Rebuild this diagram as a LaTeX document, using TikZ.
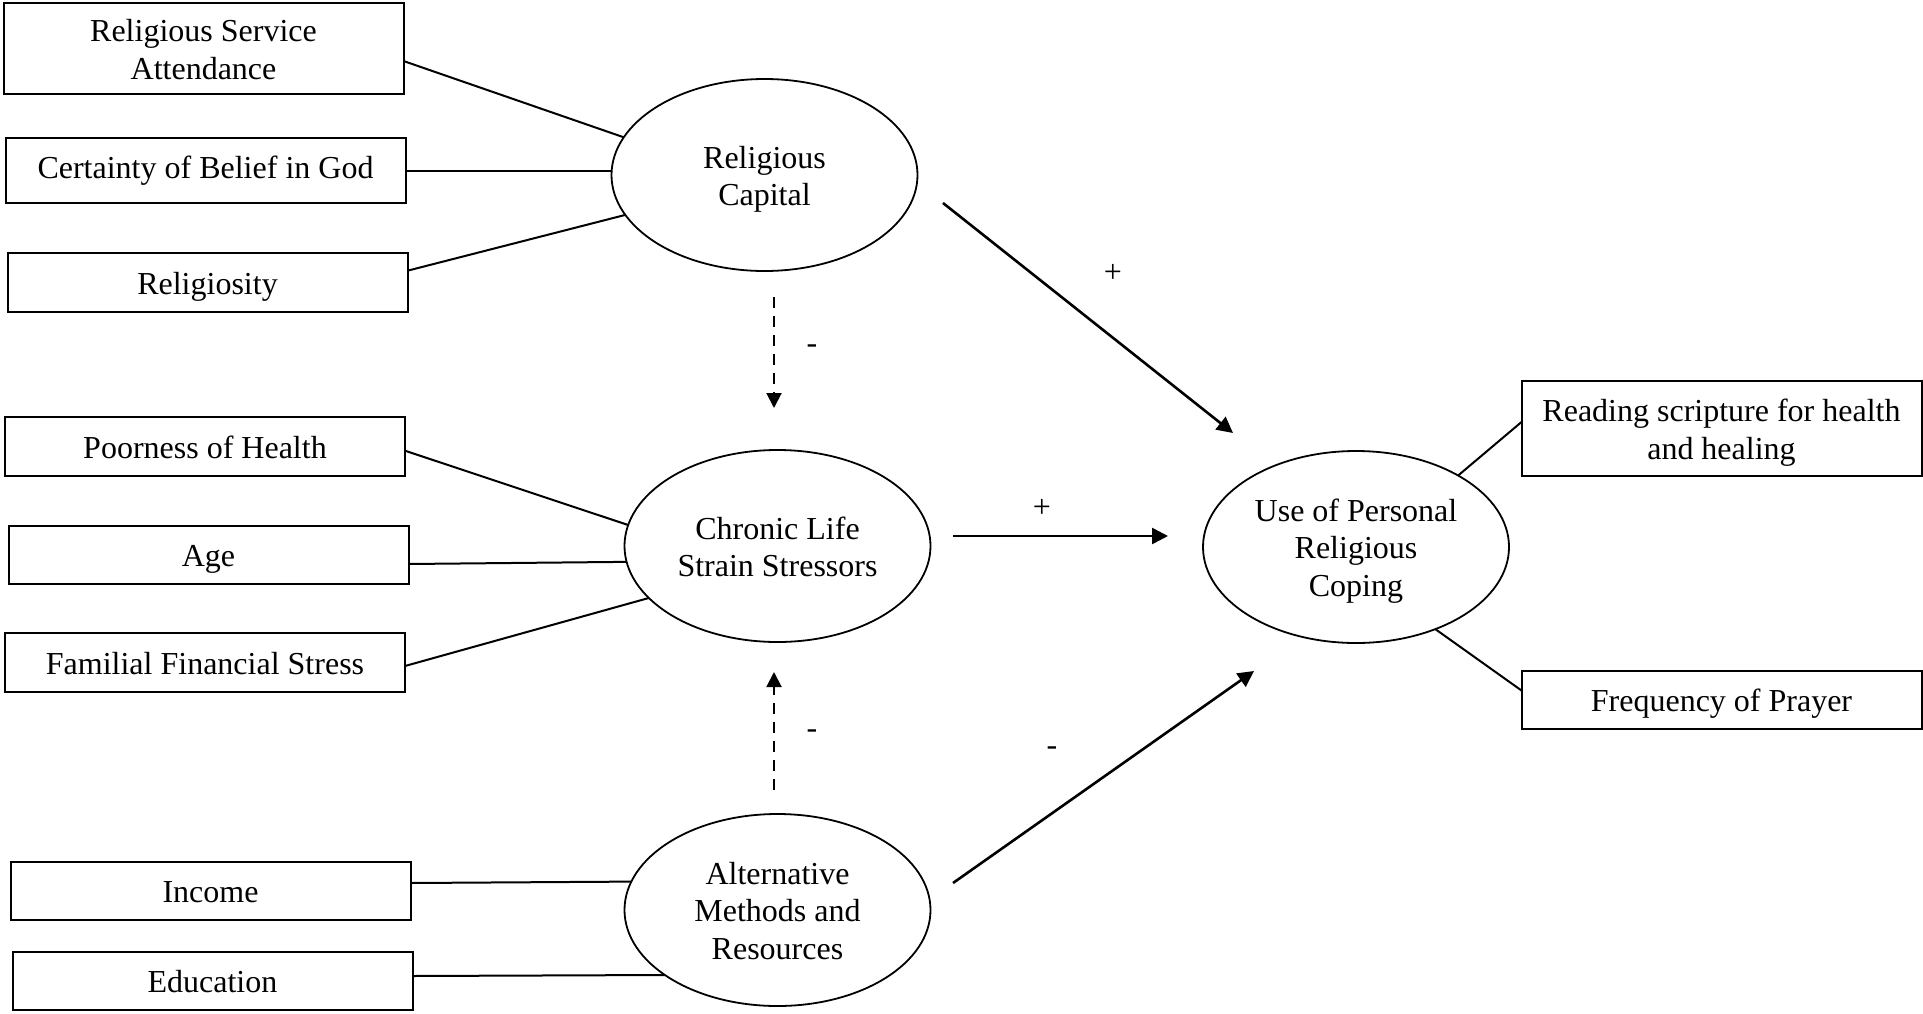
\documentclass[tikz,border=0pt]{standalone}
\usepackage{fontspec}
\setmainfont{Liberation Serif}
\usetikzlibrary{arrows.meta,shapes.geometric}
\newcommand\diagfont{\fontsize{16pt}{18.7pt}\selectfont}
\newcommand\lbl[1]{\raisebox{-2.2pt}[\height][\depth]{\begin{tabular}{@{}c@{}}#1\end{tabular}}}
\begin{document}
\begin{tikzpicture}[x=0.5pt,y=-0.5pt,
  box/.style={draw,line width=1pt,rectangle,inner sep=0pt,outer sep=0pt,minimum width=200pt,font=\diagfont},
  latent/.style={draw,line width=0.9pt,ellipse,inner sep=0pt,outer sep=0pt,minimum width=153pt,minimum height=96pt,font=\diagfont},
  conn/.style={line width=1pt},
  causal/.style={line width=1.3pt,-{Triangle[length=8pt,width=8pt]}},
  dashedcausal/.style={line width=1pt,dash pattern=on 5.5pt off 4pt,-{Triangle[length=7.5pt,width=7.5pt]}},
  sign/.style={font=\diagfont,inner sep=0pt}
]
\useasboundingbox (0,0) rectangle (1923,1013);

% indicator boxes
\node[box,minimum height=45.5pt] (rsa) at (203.5,48.5) {\lbl{Religious Service\\Attendance}};
\node[box,minimum height=32.5pt] (cert) at (205.5,170.5) {\raisebox{1.8pt}[\height][\depth]{\lbl{Certainty of Belief in God}}};
\node[box,minimum height=29.5pt] (relig) at (207.5,282.5) {\lbl{Religiosity}};
\node[box,minimum height=29.5pt] (poor) at (205,446.5) {\lbl{Poorness of Health}};
\node[box,minimum height=29pt] (age) at (208.5,555) {\lbl{Age}};
\node[box,minimum height=29.5pt] (fam) at (205,662.5) {\lbl{Familial Financial Stress}};
\node[box,minimum height=29pt] (inc) at (210.5,891) {\lbl{Income}};
\node[box,minimum height=29pt] (edu) at (212.5,981) {\lbl{Education}};
\node[box,minimum height=47.5pt] (read) at (1721.5,428.5) {\lbl{Reading scripture for health\\and healing}};
\node[box,minimum height=29pt] (freq) at (1721.5,699.5) {\lbl{Frequency of Prayer}};

% latent constructs
\node[latent] (rc) at (764.5,175) {\lbl{Religious\\Capital}};
\node[latent] (cls) at (777.5,546) {\lbl{Chronic Life\\Strain Stressors}};
\node[latent] (amr) at (777.5,910) {\lbl{Alternative\\Methods and\\Resources}};
\node[latent] (uprc) at (1356,547) {\lbl{Use of Personal\\Religious\\Coping}};

% measurement links
\draw[conn] ([yshift=-6.25pt]rsa.east) -- (rc.165);
\draw[conn] (cert.east) -- (cert.east -| rc.west);
\draw[conn] ([yshift=5.9pt]relig.east) -- (rc.196.4);
\draw[conn] ([yshift=-2.1pt]poor.east) -- (cls.172.3);
\draw[conn] ([yshift=-4.5pt]age.east) -- (cls.186.9);
\draw[conn] ([yshift=-1.75pt]fam.east) -- (cls.202.2);
\draw[conn] ([yshift=4pt]inc.east) -- (amr.169.5);
\draw[conn] ([yshift=2.5pt]edu.east) -- (amr.210.8);
\draw[conn] (uprc.35) -- ([yshift=3.25pt]read.west);
\draw[conn] (uprc.-46.4) -- ([yshift=4.5pt]freq.west);

% structural paths (free ends)
\coordinate (p1s) at (943,203);
\coordinate (p1e) at (1233,433);
\coordinate (p2s) at (953,536);
\coordinate (p2e) at (1168,536);
\coordinate (p3s) at (953,883);
\coordinate (p3e) at (1254,671);
\coordinate (d1s) at (774,297);
\coordinate (d1e) at (774,408);
\coordinate (d2s) at (774,790);
\coordinate (d2e) at (774,672);

\draw[causal] (p1s) -- (p1e);
\draw[causal] (p2s) -- (p2e);
\draw[causal] (p3s) -- (p3e);
\draw[dashedcausal] (d1s) -- (d1e);
\draw[dashedcausal] (d2s) -- (d2e);

% signs
\node[sign] (s1) at (1113,273) {+};
\node[sign] (s2) at (1042,508) {+};
\node[sign] (s3) at (1052,751) {-};
\node[sign] (s4) at (812,349) {-};
\node[sign] (s5) at (812,734) {-};
\end{tikzpicture}
\end{document}
